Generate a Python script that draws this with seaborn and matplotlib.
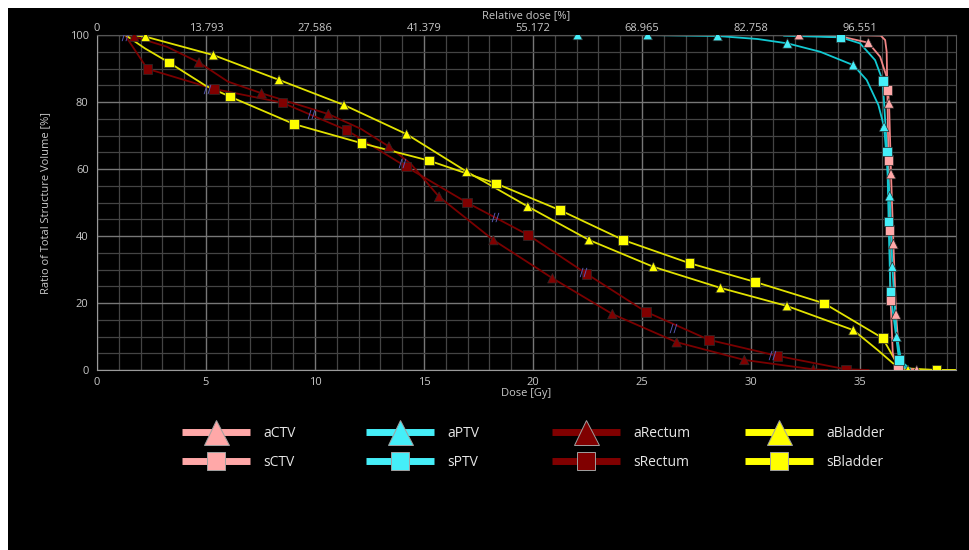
import pandas as pd
import seaborn as sns
import matplotlib.pyplot as plt
from matplotlib.lines import Line2D
from matplotlib.patches import Rectangle
from matplotlib.ticker import MultipleLocator

# DVH curves: dose [Gy], volume [%], mk=1 where a marker sits
actv_x = [30.67, 32.2, 34.3, 35.38, 35.92, 36.22, 36.33, 36.42, 36.53, 36.65, 36.8, 37.0, 37.6]
actv_y = [100, 100, 99.3, 97.7, 93.5, 87.5, 79.6, 58.5, 37.6, 16.6, 4, 0.8, 0]
actv_mk = [0, 1, 0, 1, 0, 0, 1, 1, 1, 1, 0, 0, 1]

sctv_x = [34.5, 35.95, 36.15, 36.22, 36.25, 36.3, 36.35, 36.4, 36.5, 36.73, 37.0]
sctv_y = [100, 99.8, 98.5, 95, 83.6, 62.7, 41.8, 20.9, 5, 0.5, 0]
sctv_mk = [0, 0, 0, 0, 1, 1, 1, 1, 0, 1, 0]

aptv_x = [20.9, 22.05, 25.26, 28.47, 30.3, 31.67, 33.17, 34.69, 35.3, 35.84, 36.1, 36.36, 36.48, 36.68, 36.9, 37.3]
aptv_y = [100, 100, 100, 99.7, 98.8, 97.5, 95.0, 91.0, 86.6, 79.1, 72.6, 51.9, 30.8, 9.9, 2.5, 0.3]
aptv_mk = [0, 1, 1, 1, 0, 1, 0, 1, 0, 0, 1, 1, 1, 1, 0, 0]

sptv_x = [31.5, 34.11, 35.0, 35.69, 36.04, 36.24, 36.31, 36.39, 36.79, 37.1]
sptv_y = [99.8, 99.3, 97.5, 92.5, 86.3, 65.2, 44.3, 23.4, 3.0, 0.5]
sptv_mk = [0, 1, 0, 0, 1, 1, 1, 1, 1, 0]

arect_x = [1.28, 1.71, 3.2, 4.68, 6.0, 7.55, 10.61, 12.1, 13.39, 14.4, 15.69, 18.18, 20.89, 23.64, 26.59, 29.69, 32.86, 33.5]
arect_y = [100, 99.5, 96.5, 91.8, 86.1, 82.6, 76.4, 72.0, 66.7, 61.5, 51.7, 38.8, 27.4, 16.7, 8.3, 3.0, 0.2, 0]
arect_mk = [0, 1, 0, 1, 0, 1, 1, 0, 1, 0, 1, 1, 1, 1, 1, 1, 1, 0]

srect_x = [1.28, 2.31, 5.37, 8.50, 11.45, 14.17, 16.96, 19.78, 22.46, 25.17, 28.07, 31.22, 34.36, 35.4]
srect_y = [100, 89.9, 83.9, 79.8, 71.6, 60.7, 50.0, 40.3, 28.7, 17.4, 9.0, 4.2, 0.2, 0]
srect_mk = [0, 1, 1, 1, 1, 1, 1, 1, 1, 1, 1, 1, 1, 0]

abl_x = [1.5, 2.23, 5.34, 8.35, 11.33, 14.2, 16.96, 19.76, 22.57, 25.52, 28.6, 31.65, 34.69, 35.8, 36.6, 37.2, 39.4]
abl_y = [100, 99.5, 94.0, 86.6, 79.1, 70.4, 59.2, 48.8, 38.8, 30.8, 24.5, 19.1, 11.9, 6, 1.5, 0, 0]
abl_mk = [0, 1, 1, 1, 1, 1, 1, 1, 1, 1, 1, 1, 1, 0, 0, 1, 0]

sbl_x = [1.3, 2.2, 3.30, 5.0, 6.10, 9.04, 12.14, 15.23, 18.29, 21.24, 24.14, 27.17, 30.18, 33.35, 36.04, 36.6, 37.1, 38.5, 39.4]
sbl_y = [100, 96, 91.8, 84.8, 81.6, 73.4, 67.7, 62.5, 55.7, 47.7, 38.8, 31.9, 26.3, 19.9, 9.5, 3, 0.5, 0, 0]
sbl_mk = [0, 0, 1, 0, 1, 1, 1, 1, 1, 1, 1, 1, 1, 1, 1, 0, 0, 1, 0]

# small blue tags sitting on the rectum curve
tag_x = [1.28, 5.06, 9.8, 14.0, 18.26, 22.3, 26.4, 30.98]
tag_y = [99.7, 84.0, 76.4, 61.7, 45.8, 29.3, 12.4, 4.5]

rel_labels = ["0", "13.793", "27.586", "41.379", "55.172", "68.965", "82.758", "96.551"]

series = {
    "aRectum": (arect_x, arect_y, arect_mk),
    "sRectum": (srect_x, srect_y, srect_mk),
    "aBladder": (abl_x, abl_y, abl_mk),
    "sBladder": (sbl_x, sbl_y, sbl_mk),
    "aCTV": (actv_x, actv_y, actv_mk),
    "sCTV": (sctv_x, sctv_y, sctv_mk),
    "aPTV": (aptv_x, aptv_y, aptv_mk),
    "sPTV": (sptv_x, sptv_y, sptv_mk),
}
rows = []
for name, (xs, ys, mks) in series.items():
    for i, (x, y, m) in enumerate(zip(xs, ys, mks)):
        rows.append({"series": name, "idx": i, "dose": x, "vol": y, "mk": m})
df = pd.DataFrame(rows)

line_col = {"CTV": "#f08585", "PTV": "#12c9d2", "Rectum": "#7a0000", "Bladder": "#e2e200"}
fill_col = {"CTV": "#ffa8a8", "PTV": "#45eef8", "Rectum": "#800000", "Bladder": "#ffff00"}
line_pal = {n: line_col[n[1:]] for n in series}
fill_pal = {n: fill_col[n[1:]] for n in series}
mk_map = {n: ("^" if n[0] == "a" else "s") for n in series}
order = list(series.keys())

sns.set_style("dark")
plt.rcParams["font.family"] = ["Open Sans", "DejaVu Sans"]
txt = "#c8c8c8"

fig = plt.figure(figsize=(9.7, 5.5), dpi=100, facecolor="white")
fig.patches.append(Rectangle((8 / 970, 0), 1, 542 / 550, transform=fig.transFigure,
                             facecolor="black", edgecolor="none", zorder=-10))
ax = fig.add_axes([97 / 970, 180 / 550, 859 / 970, 335 / 550])
ax.set_facecolor("black")

sns.lineplot(data=df, x="dose", y="vol", hue="series", hue_order=order, units="series",
             palette=line_pal, estimator=None, sort=False, lw=1.3, legend=False, ax=ax)
sns.scatterplot(data=df[df["mk"] == 1], x="dose", y="vol", hue="series", hue_order=order,
                style="series", markers=mk_map, palette=fill_pal, s=48,
                edgecolor="#2a2a2a", linewidth=0.5, legend=False, ax=ax, zorder=4)
sns.scatterplot(x=tag_x, y=tag_y, marker=r"$//$", color="#5a5ab8", s=45,
                linewidth=0, legend=False, ax=ax, zorder=5)

ax.set_xlim(0, 39.4)
ax.set_ylim(0, 100)
ax.xaxis.set_major_locator(MultipleLocator(5))
ax.xaxis.set_minor_locator(MultipleLocator(1))
ax.yaxis.set_major_locator(MultipleLocator(20))
ax.yaxis.set_minor_locator(MultipleLocator(5))
ax.grid(which="minor", color="#444444", lw=0.9)
ax.grid(which="major", color="#777777", lw=1.0)
ax.set_axisbelow(True)
for s in ax.spines.values():
    s.set_color("#555555")
ax.spines["left"].set_color("#9a9a9a")
ax.spines["bottom"].set_color("#9a9a9a")
ax.tick_params(axis="x", which="both", length=0, colors=txt, labelsize=8, pad=5)
ax.tick_params(axis="y", which="major", length=4, color="#9a9a9a", colors=txt, labelsize=8, pad=2)
ax.tick_params(axis="y", which="minor", length=0)
ax.set_xlabel("Dose [Gy]", color=txt, fontsize=8, labelpad=0)
ax.set_ylabel("Ratio of Total Structure Volume [%]", color=txt, fontsize=8, labelpad=13)

ax2 = ax.twiny()
ax2.set_xlim(ax.get_xlim())
ax2.set_xticks(range(0, 36, 5))
ax2.set_xticklabels(rel_labels)
ax2.tick_params(axis="x", length=0, colors=txt, labelsize=8, pad=1)
ax2.set_xlabel("Relative dose [%]", color=txt, fontsize=8, labelpad=3)
for s in ax2.spines.values():
    s.set_visible(False)

# legend: four columns of two entries each
cols = [("aCTV", "sCTV", 182), ("aPTV", "sPTV", 366), ("aRectum", "sRectum", 552), ("aBladder", "sBladder", 745)]
for a, b, x0 in cols:
    hs = []
    for n in (a, b):
        c = fill_pal[n]
        big = n[0] == "a"
        hs.append(Line2D([], [], color=c, lw=5, solid_capstyle="butt", marker=mk_map[n],
                         markersize=18 if big else 13, markerfacecolor=c,
                         markeredgecolor="#a0a0a0", markeredgewidth=0.7))
    fig.legend(hs, [a, b], loc="upper left", bbox_to_anchor=(x0 / 970, 1 - 426 / 550),
               frameon=False, ncol=1, fontsize=10, labelcolor="#e6e6e6", handlelength=4.9,
               handletextpad=0.93, labelspacing=1.0, borderpad=0, borderaxespad=0)

fig.savefig("out.png", dpi=100, facecolor="white")
